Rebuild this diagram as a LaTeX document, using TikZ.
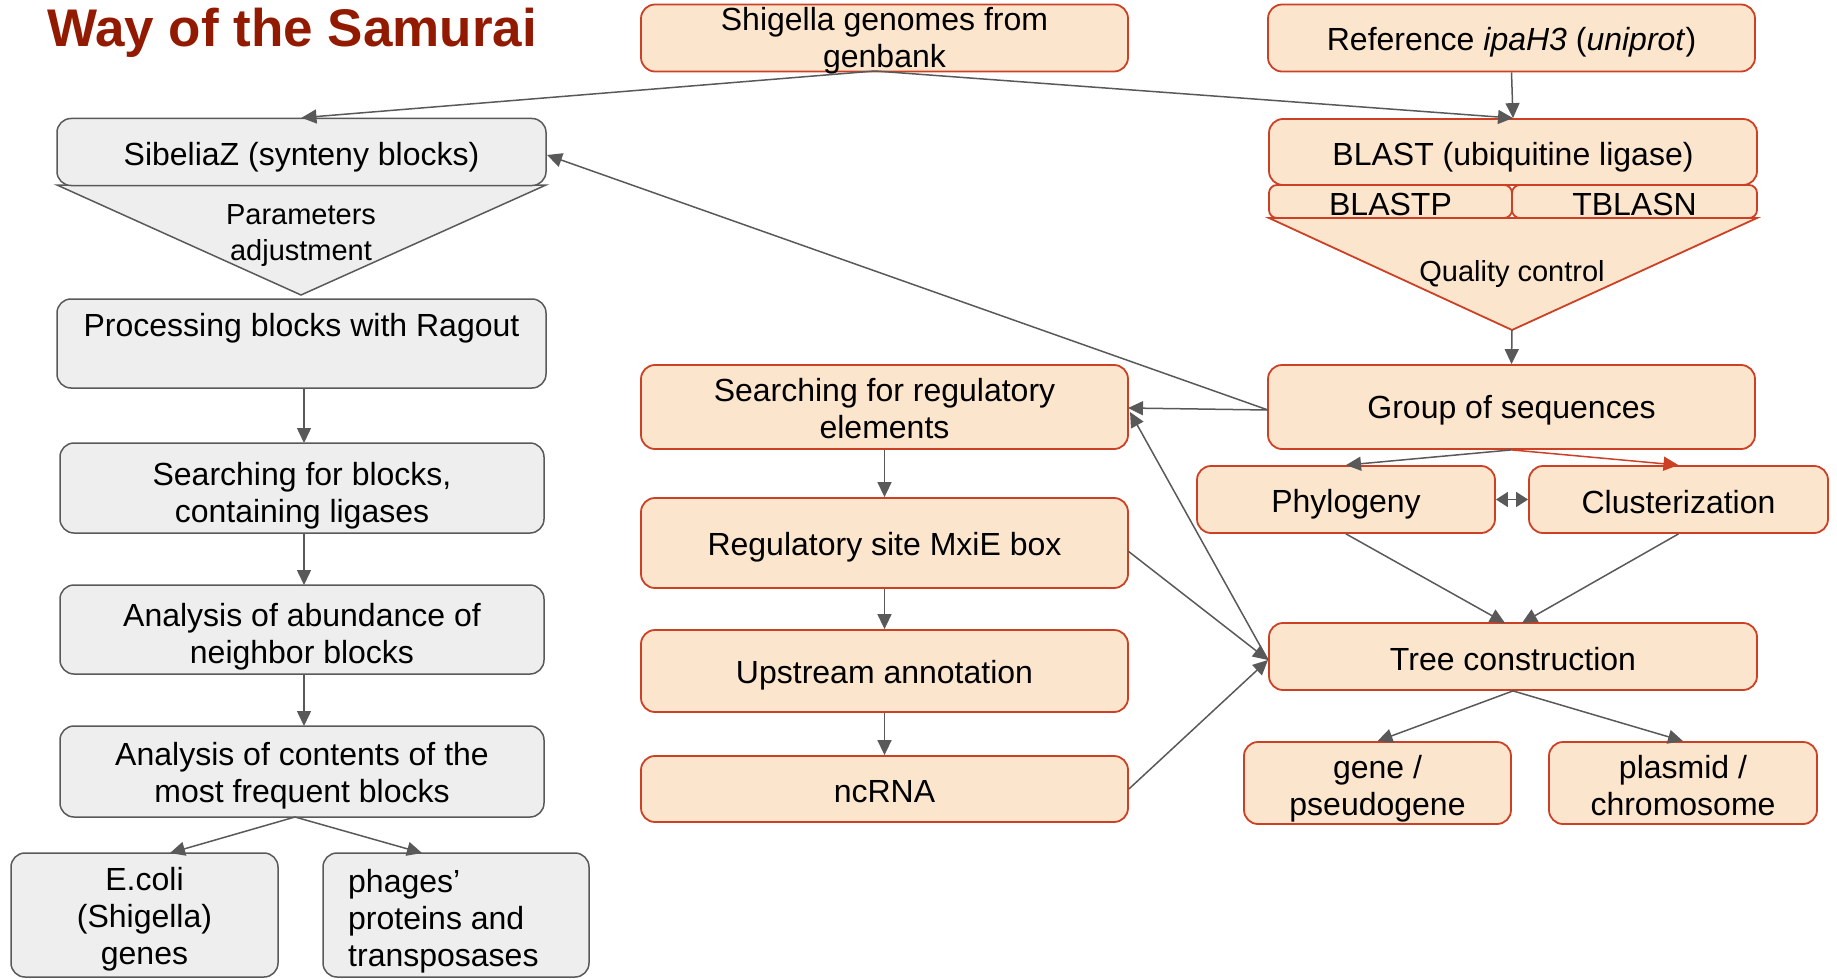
\documentclass[tikz,border=0pt]{standalone}
\usepackage{fontspec}
\setmainfont{Liberation Sans}
\usetikzlibrary{arrows.meta}
\definecolor{gline}{HTML}{595959}
\definecolor{gfill}{HTML}{EEEEEE}
\definecolor{oline}{HTML}{CC4125}
\definecolor{ofill}{HTML}{FCE5CD}
\definecolor{ttl}{HTML}{921A00}
\tikzset{
  txt/.style={inner sep=0pt, align=center, font=\fontsize{32}{37}\selectfont},
  base/.style={rounded corners=14pt, inner sep=0pt},
  lbl/.style={label={[txt, yshift=-4.5pt]center:{#1}}},
  lbld/.style 2 args={label={[txt, yshift=-#1]center:{#2}}},
  gbox/.style={base, draw=gline, fill=gfill, line width=1.5pt},
  obox/.style={base, draw=oline, fill=ofill, line width=1.8pt},
  gtri/.style={draw=gline, fill=gfill, line width=1.5pt, line join=miter},
  otri/.style={draw=oline, fill=ofill, line width=1.8pt, line join=miter},
  small/.style={inner sep=0pt, align=center, font=\fontsize{29}{36}\selectfont},
  arr/.style={draw=gline, line width=1.5pt, -{Triangle[length=15pt,width=14pt]}},
  rarr/.style={draw=oline, line width=1.5pt, -{Triangle[length=15pt,width=14pt]}},
  darr/.style={draw=gline, line width=1.5pt, {Triangle[length=12pt,width=15pt]}-{Triangle[length=12pt,width=15pt]}},
}
\begin{document}
\begin{tikzpicture}[x=1pt,y=-1pt]
\useasboundingbox (0,0) rectangle (1837,979);
% title
\node[anchor=base west, inner sep=0pt, text=ttl, font=\fontsize{53}{60}\selectfont\bfseries] (title) at (47,47) {Way of the Samurai};

% triangles
\path[gtri] (57,185) -- (546,185) -- (301,295) -- cycle;
\path[otri] (1269,218) -- (1757,218) -- (1512,330) -- cycle;
\node[small] (param) at (301,236) {Parameters\\adjustment};
\node[small] (qc) at (1512,274) {Quality control};
\coordinate (qcapex) at (1512,330);

% top row
\node[obox, minimum width=487pt, minimum height=67pt, lbld={2.5pt}{Shigella genomes from\\genbank}] (shig) at (884.5,38) {};
\node[obox, minimum width=487pt, minimum height=67pt, lbl={Reference \textit{ipaH3} (\textit{uniprot})}] (ref) at (1511.5,38) {};
\node[obox, minimum width=488pt, minimum height=66pt, lbld={5.5pt}{BLAST (ubiquitine ligase)}] (blast) at (1513,152) {};
\node[obox, rounded corners=8pt, minimum width=243pt, minimum height=33pt, lbld={2.5pt}{BLASTP}] (blastp) at (1390.5,201.5) {};
\node[obox, rounded corners=8pt, minimum width=245pt, minimum height=33pt, lbld={2.5pt}{TBLASN}] (tblasn) at (1634.5,201.5) {};

% right column
\node[obox, minimum width=487pt, minimum height=84pt, lbld={3.5pt}{Group of sequences}] (group) at (1511.5,407) {};
\node[obox, minimum width=298pt, minimum height=67pt, lbl={Phylogeny}] (phylo) at (1346,499.5) {};
\node[obox, minimum width=299pt, minimum height=67pt, lbld={2.5pt}{Clusterization}] (clust) at (1678.5,499.5) {};
\node[obox, minimum width=488pt, minimum height=67pt, lbld={3pt}{Tree construction}] (tree) at (1513,656.5) {};
\node[obox, minimum width=267pt, minimum height=82pt, lbld={5.5pt}{gene /\\pseudogene}] (gene) at (1377.5,783) {};
\node[obox, minimum width=268pt, minimum height=82pt, lbld={2.5pt}{plasmid /\\chromosome}] (plasmid) at (1683,783) {};

% middle column
\node[obox, minimum width=487pt, minimum height=84pt, lbld={1.5pt}{Searching for regulatory\\elements}] (regs) at (884.5,407) {};
\node[obox, minimum width=487pt, minimum height=90pt, lbl={Regulatory site MxiE box}] (mxie) at (884.5,543) {};
\node[obox, minimum width=487pt, minimum height=82pt, lbl={Upstream annotation}] (upst) at (884.5,671) {};
\node[obox, minimum width=487pt, minimum height=66pt, lbld={2.5pt}{ncRNA}] (ncrna) at (884.5,789) {};

% left column
\node[gbox, minimum width=489pt, minimum height=67pt, lbld={5pt}{SibeliaZ (synteny blocks)}] (sib) at (301.5,152) {};
\node[gbox, minimum width=489pt, minimum height=89pt, label={[txt, yshift=15pt]center:Processing blocks with Ragout}] (proc) at (301.5,343.5) {};
\node[gbox, minimum width=484pt, minimum height=90pt, lbld={8pt}{Searching for blocks,\\containing ligases}] (sblk) at (302,488) {};
\node[gbox, minimum width=484pt, minimum height=89pt, lbld={7pt}{Analysis of abundance of\\neighbor blocks}] (abund) at (302,629.5) {};
\node[gbox, minimum width=484pt, minimum height=91pt, lbl={Analysis of contents of the\\most frequent blocks}] (cont) at (302,771.5) {};
\node[gbox, minimum width=267pt, minimum height=124pt, lbld={4pt}{E.coli\\(Shigella)\\genes}] (ecoli) at (144.5,915) {};
\node[gbox, minimum width=266pt, minimum height=124pt] (phages) at (456,915) {};
\node[txt, align=left, anchor=west] (phtxt) at (348,921) {phages’\\proteins and\\transposases};

% connectors
\coordinate (shigout) at (875,71);
\draw[arr] (shigout) -- (sib.north);
\draw[arr] (shigout) -- (blast.north);
\draw[arr] (ref.south) -- (blast.north);
\draw[arr] (qcapex) -- (group.north);
\coordinate (grpw) at (1268,410);
\draw[arr] (grpw) -- (1128,408);
\draw[arr] (grpw) -- (547,155);
\draw[arr] (group.south) -- (phylo.north);
\draw[rarr] (group.south) -- (clust.north);
\draw[darr] (phylo.east) -- (clust.west);
\draw[arr] (phylo.south) -- (1505,623);
\draw[arr] (clust.south) -- (1522,623);
\draw[arr] (tree.south) -- (gene.north);
\draw[arr] (tree.south) -- (plasmid.north);
\draw[arr] (regs.south) -- (mxie.north);
\draw[arr] (mxie.south) -- (upst.north);
\draw[arr] (upst.south) -- (ncrna.north);
\coordinate (treew) at (1268,660);
\draw[arr] (1128,551) -- (treew);
\draw[arr] (ncrna.east) -- (treew);
\draw[arr] (treew) -- (1130,412);
\draw[arr] (304,388) -- (304,443);
\draw[arr] (304,533) -- (304,585);
\draw[arr] (304,674) -- (304,726);
\draw[arr] (295,817) -- (170,853);
\draw[arr] (295,817) -- (422,853);
\end{tikzpicture}
\end{document}
